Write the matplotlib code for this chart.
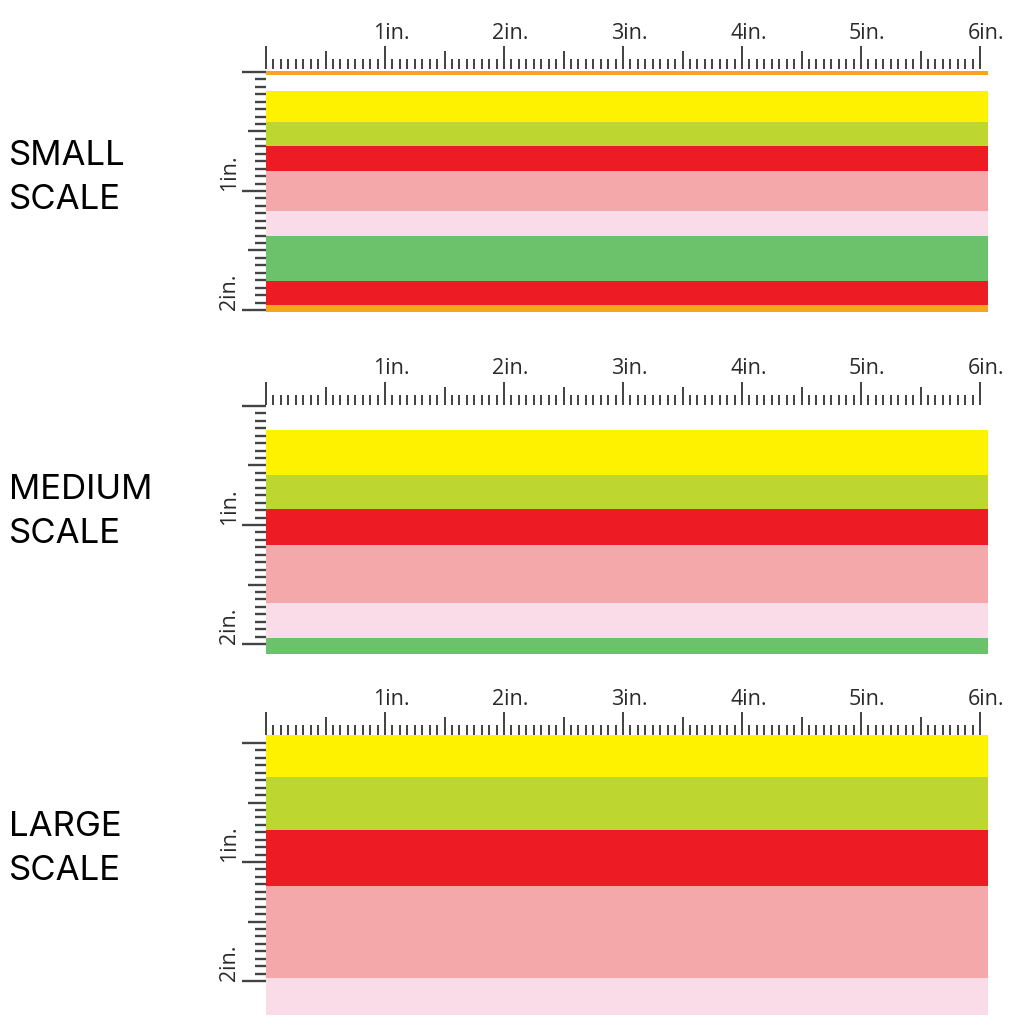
import numpy as np
import matplotlib
matplotlib.use("Agg")
import matplotlib.pyplot as plt

# colours of the fabric stripes
ORANGE = "#F7A520"
YELLOW = "#FFF200"
LIME = "#BDD630"
RED = "#ED1C24"
PINK = "#F5A8A9"
BLUSH = "#FADCE9"
GREEN = "#6CC16B"

# stripe tops / bottoms in inches (measured from the ruler zero)
small_top = [-0.01, 0.158, 0.42, 0.62, 0.83, 1.17, 1.38, 1.755, 1.96]
small_bottom = [0.025, 0.42, 0.62, 0.83, 1.17, 1.38, 1.755, 1.96, 2.02]
small_colors = [ORANGE, YELLOW, LIME, RED, PINK, BLUSH, GREEN, RED, ORANGE]

medium_top = [0.202, 0.58, 0.866, 1.168, 1.655, 1.95]
medium_bottom = [0.58, 0.866, 1.168, 1.655, 1.95, 2.084]
medium_colors = [YELLOW, LIME, RED, PINK, BLUSH, GREEN]

large_top = [-0.067, 0.286, 0.731, 1.202, 1.975]
large_bottom = [0.286, 0.731, 1.202, 1.975, 2.286]
large_colors = [YELLOW, LIME, RED, PINK, BLUSH]

scale_names = [["SMALL", "SCALE"], ["MEDIUM", "SCALE"], ["LARGE", "SCALE"]]
fabric_width = 6.07
h_labels = ["1in.", "2in.", "3in.", "4in.", "5in.", "6in."]
v_labels = ["1in.", "2in."]

PPI = 119.0  # pixels per ruler inch
FIG = 1024.0


def draw_rulers(ax, ruler_y):
    """
    Draw the top (inches across) and left (inches down) rulers
    """
    tick_col = "#333333"
    xs = np.arange(0, 6 + 1e-9, 1 / 16)
    for x in xs:
        if abs(x - round(x)) < 1e-6:
            ln = 0.195
        elif abs(x * 2 - round(x * 2)) < 1e-6:
            ln = 0.15
        else:
            ln = 0.085
        ax.vlines(x, ruler_y - ln, ruler_y, color=tick_col, lw=1.3,
                  clip_on=False)
    for i, lab in enumerate(h_labels):
        ax.text(i + 1 - 0.1, ruler_y - 0.255, lab, ha="left",
                va="baseline", fontsize=15.5, color="#2a2a2a",
                family="Open Sans")

    ys = np.arange(0, 2 + 1e-9, 1 / 16)
    for y in ys:
        if abs(y - round(y)) < 1e-6:
            ln = 0.2
        elif abs(y * 2 - round(y * 2)) < 1e-6:
            ln = 0.15
        else:
            ln = 0.09
        ax.hlines(y, -ln, 0, color="#444444", lw=1.7, clip_on=False)
    for i, lab in enumerate(v_labels):
        ax.text(-0.31, i + 1, lab, rotation=90, ha="center", va="bottom",
                fontsize=15.5, color="#2a2a2a", family="Open Sans")


def draw_panel(fig, origin_px, tops, bottoms, colors, ruler_y, names):
    y0 = -0.35
    y1 = max(bottoms) + 0.02
    bottom_px = origin_px + y1 * PPI
    ax = fig.add_axes([266 / FIG, 1 - bottom_px / FIG,
                       fabric_width * PPI / FIG, (y1 - y0) * PPI / FIG])
    heights = np.array(bottoms) - np.array(tops)
    ax.barh(tops, fabric_width, height=heights, left=0, align="edge",
            color=colors, linewidth=0)
    ax.set_xlim(0, fabric_width)
    ax.set_ylim(y1, y0)
    ax.axis("off")
    draw_rulers(ax, ruler_y)

    # scale name on the left
    base = origin_px + 93
    for k, word in enumerate(names):
        fig.text(9 / FIG, 1 - (base + k * 44) / FIG, word, ha="left",
                 va="baseline", fontsize=25, color="black", family="Inter")
    return ax


def main():
    fig = plt.figure(figsize=(10.24, 10.24), dpi=100)
    fig.patch.set_facecolor("white")
    draw_panel(fig, 72, small_top, small_bottom, small_colors, -0.025,
               scale_names[0])
    draw_panel(fig, 406, medium_top, medium_bottom, medium_colors, -0.01,
               scale_names[1])
    draw_panel(fig, 743, large_top, large_bottom, large_colors, -0.067,
               scale_names[2])
    fig.savefig("out.png", dpi=100, facecolor="white")
    plt.close(fig)
    return


if __name__ == "__main__":
    main()
